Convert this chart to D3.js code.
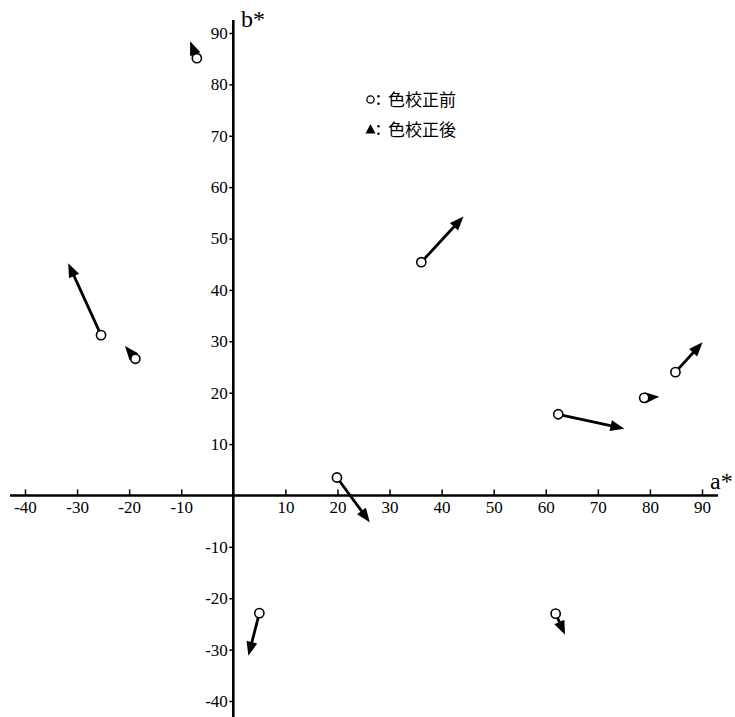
<!DOCTYPE html>
<html>
<head>
<meta charset="utf-8">
<script src="https://cdn.jsdelivr.net/npm/d3@7/dist/d3.min.js"></script>
<style>
  html, body { margin: 0; padding: 0; background: #fff; }
  svg { display: block; }
</style>
</head>
<body>
<svg id="chart" width="735" height="717"></svg>
<script>
// a*, b* of each patch before colour correction (circle) and after (arrow tip)
const beforeA = [-7.0, -25.4, -18.8, 36.1, 19.9, 5.0, 61.9, 62.4, 78.9, 84.9];
const beforeB = [85.1, 31.2, 26.6, 45.4, 3.5, -22.9, -23.0, 15.8, 19.0, 24.0];
const afterA  = [-8.3, -31.7, -20.8, 44.2, 26.2, 2.9, 63.7, 75.1, 81.8, 90.1];
const afterB  = [88.4, 45.2, 29.1, 54.3, -5.2, -31.2, -27.1, 13.0, 19.2, 29.8];

const xTicks = [-40, -30, -20, -10, 10, 20, 30, 40, 50, 60, 70, 80, 90];
const yTicks = [-40, -30, -20, -10, 10, 20, 30, 40, 50, 60, 70, 80, 90];

const legendItems = ["色校正前", "色校正後"];

const svg = d3.select("#chart");
const serif = "'Liberation Serif', 'DejaVu Serif', serif";
const cjk = "'Noto Sans CJK JP', 'Noto Sans CJK SC', sans-serif";

const x = d3.scaleLinear().domain([-40, 90]).range([25, 702]);
const y = d3.scaleLinear().domain([-40, 90]).range([701, 33]);

const x0 = x(0), y0 = y(0);
const plainNum = d => String(d);

// axis lines crossing at the origin
svg.append("line")
  .attr("x1", 10).attr("x2", 718).attr("y1", y0).attr("y2", y0)
  .attr("stroke", "#000").attr("stroke-width", 2.6);
svg.append("line")
  .attr("x1", x0).attr("x2", x0).attr("y1", 20).attr("y2", 717)
  .attr("stroke", "#000").attr("stroke-width", 2.6);

// horizontal axis: ticks point up, labels below
const gx = svg.append("g")
  .attr("transform", `translate(0,${y0})`)
  .call(d3.axisBottom(x).tickValues(xTicks).tickSize(-6).tickPadding(5).tickFormat(plainNum));
gx.select(".domain").remove();
gx.selectAll("line").attr("stroke-width", 1.5);
gx.selectAll("text").attr("font-family", serif).attr("font-size", 17).attr("fill", "#000");

// vertical axis: ticks to the left
const gy = svg.append("g")
  .attr("transform", `translate(${x0},0)`)
  .call(d3.axisLeft(y).tickValues(yTicks).tickSize(4).tickPadding(1.5).tickFormat(plainNum));
gy.select(".domain").remove();
gy.selectAll("line").attr("stroke-width", 1.5);
gy.selectAll("text").attr("font-family", serif).attr("font-size", 17).attr("fill", "#000");

// axis titles
svg.append("text").attr("x", 241).attr("y", 27)
  .attr("font-family", serif).attr("font-size", 24).text("b*");
svg.append("text").attr("x", 710).attr("y", 489)
  .attr("font-family", serif).attr("font-size", 24).text("a*");

// arrows from before to after
const moves = beforeA.map((a, i) => ({
  x1: x(a), y1: y(beforeB[i]), x2: x(afterA[i]), y2: y(afterB[i])
}));

const headLen = 14, headHalf = 5.5;
const gArrows = svg.append("g");
moves.forEach(m => {
  const dx = m.x2 - m.x1, dy = m.y2 - m.y1;
  const len = Math.hypot(dx, dy);
  const ux = dx / len, uy = dy / len;
  const bx = m.x2 - ux * headLen, by = m.y2 - uy * headLen;
  gArrows.append("line")
    .attr("x1", m.x1).attr("y1", m.y1)
    .attr("x2", m.x2 - ux * (headLen - 2)).attr("y2", m.y2 - uy * (headLen - 2))
    .attr("stroke", "#000").attr("stroke-width", 2.8);
  gArrows.append("path")
    .attr("d", `M${m.x2},${m.y2}L${bx - uy * headHalf},${by + ux * headHalf}L${bx + uy * headHalf},${by - ux * headHalf}Z`)
    .attr("fill", "#000");
});

// original colour points
svg.append("g").selectAll("circle")
  .data(moves)
  .join("circle")
  .attr("cx", d => d.x1).attr("cy", d => d.y1).attr("r", 4.6)
  .attr("fill", "#fff").attr("stroke", "#000").attr("stroke-width", 1.6);

// legend
const lg = svg.append("g");
lg.append("circle").attr("cx", 370.5).attr("cy", 99.5).attr("r", 3.6)
  .attr("fill", "#fff").attr("stroke", "#000").attr("stroke-width", 1.3);
lg.append("path").attr("d", "M370.5,124L375.5,133.5L365.5,133.5Z").attr("fill", "#000");
[0, 1].forEach(i => {
  const cy = 99.5 + i * 30;
  lg.append("circle").attr("cx", 378.5).attr("cy", cy - 3.2).attr("r", 1.2).attr("fill", "#000");
  lg.append("circle").attr("cx", 378.5).attr("cy", cy + 4.2).attr("r", 1.2).attr("fill", "#000");
  lg.append("text").attr("x", 388).attr("y", cy + 6.5)
    .attr("font-family", cjk).attr("font-size", 17).attr("fill", "#000")
    .text(legendItems[i]);
});
</script>
</body>
</html>
